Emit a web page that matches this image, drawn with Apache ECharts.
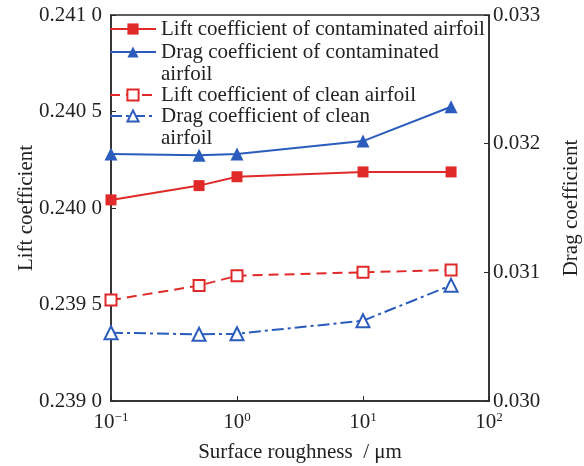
<!DOCTYPE html>
<html>
<head>
<meta charset="utf-8">
<script src="https://cdn.jsdelivr.net/npm/echarts@6/dist/echarts.min.js"></script>
<style>html,body{margin:0;padding:0;background:#fff}#c{width:584px;height:466px}</style>
</head>
<body>
<div id="c"></div>
<script>
var roughness = [0.1, 0.5, 1, 10, 50];
var liftContaminated = [0.240042, 0.240116, 0.240162, 0.240187, 0.240187];
var dragContaminated = [0.03192, 0.03191, 0.03192, 0.03202, 0.032287];
var liftClean = [0.239523, 0.239598, 0.239649, 0.239667, 0.239679];
var dragClean = [0.030531, 0.030518, 0.030523, 0.030624, 0.030899];
var seriesNames = [
  'Lift coefficient of contaminated airfoil',
  'Drag coefficient of contaminated airfoil',
  'Lift coefficient of clean airfoil',
  'Drag coefficient of clean airfoil'
];
var xAxisName = 'Surface roughness  / \u03bcm';
var leftAxisName = 'Lift coefficient';
var rightAxisName = 'Drag coefficient';

function pairs(xs, ys) { return xs.map(function (x, i) { return [x, ys[i]]; }); }

var FONT = '"Liberation Serif", "Times New Roman", serif';
var RED = '#e02a2a';
var BLUE = '#2b5cbc';
var AXC = '#2a2a2a';
var LH = 22.7;

function legendFormatter(name) {
  if (name.indexOf('Drag') === 0) {
    return ' \n' + name.replace(/ airfoil$/, '\nairfoil');
  }
  return name;
}
function mkLegend(name, top) {
  return {
    data: [name], left: 109, top: top, padding: 0, orient: 'vertical',
    itemWidth: 46, itemHeight: 14, itemGap: 0,
    formatter: legendFormatter,
    textStyle: { fontFamily: FONT, fontSize: 21, color: '#222', lineHeight: LH }
  };
}

var chart = echarts.init(document.getElementById('c'), null, { renderer: 'canvas' });
chart.setOption({
  animation: false,
  backgroundColor: '#fff',
  grid: {
    left: 111, right: 95, top: 15, bottom: 65, containLabel: false, outerBoundsMode: 'none',
    show: true, borderColor: AXC, borderWidth: 1.5, backgroundColor: 'transparent'
  },
  legend: [
    mkLegend(seriesNames[0], 29 - LH / 2),
    mkLegend(seriesNames[1], 52 - 1.5 * LH),
    mkLegend(seriesNames[2], 95 - LH / 2),
    mkLegend(seriesNames[3], 116 - 1.5 * LH)
  ],
  xAxis: {
    type: 'log', logBase: 10, min: 0.1, max: 100,
    name: xAxisName, nameLocation: 'middle', nameGap: 41,
    nameTextStyle: { fontFamily: FONT, fontSize: 21, color: '#222' },
    axisLine: { lineStyle: { color: AXC, width: 1.5 } },
    axisTick: { inside: true, length: 5, lineStyle: { color: AXC } },
    splitLine: { show: false },
    minorTick: { show: false },
    axisLabel: {
      margin: 10, color: '#222',
      formatter: function (v) {
        var e = Math.round(Math.log10(v));
        return '{b|10}{s|' + (e < 0 ? '\u2212' + (-e) : e) + '}';
      },
      rich: {
        b: { fontFamily: FONT, fontSize: 21, color: '#222' },
        s: { fontFamily: FONT, fontSize: 13, color: '#222', padding: [0, 0, 10, 0] }
      }
    }
  },
  yAxis: [
    {
      type: 'value', min: 0.239, max: 0.241, interval: 0.0005, position: 'left',
      name: leftAxisName, nameLocation: 'middle', nameGap: 74, nameRotate: 90, nameMoveOverlap: false,
      nameTextStyle: { fontFamily: FONT, fontSize: 21, color: '#222' },
      axisLine: { show: true, lineStyle: { color: AXC, width: 1.5 } },
      axisTick: { show: true, inside: true, length: 5, lineStyle: { color: AXC } },
      splitLine: { show: false },
      axisLabel: {
        margin: 9, fontFamily: FONT, fontSize: 21, color: '#222',
        formatter: function (v) { var s = v.toFixed(4); return s.slice(0, 5) + ' ' + s.slice(5); }
      }
    },
    {
      type: 'value', min: 0.030, max: 0.033, interval: 0.001, position: 'right',
      name: rightAxisName, nameLocation: 'middle', nameGap: 72, nameRotate: 90, nameMoveOverlap: false,
      nameTextStyle: { fontFamily: FONT, fontSize: 21, color: '#222' },
      axisLine: { show: true, lineStyle: { color: AXC, width: 1.5 } },
      axisTick: { show: true, inside: true, length: 5, lineStyle: { color: AXC } },
      splitLine: { show: false },
      axisLabel: {
        margin: 4, fontFamily: FONT, fontSize: 21, color: '#222',
        formatter: function (v) { return v.toFixed(3); }
      }
    }
  ],
  series: [
    {
      name: seriesNames[0], type: 'line', yAxisIndex: 0, data: pairs(roughness, liftContaminated),
      symbol: 'rect', symbolSize: 11, color: RED,
      lineStyle: { color: RED, width: 2 },
      itemStyle: { color: RED, borderWidth: 0 }
    },
    {
      name: seriesNames[1], type: 'line', yAxisIndex: 1, data: pairs(roughness, dragContaminated),
      symbol: 'triangle', symbolSize: 13, color: BLUE,
      lineStyle: { color: BLUE, width: 2 },
      itemStyle: { color: BLUE, borderWidth: 0 }
    },
    {
      name: seriesNames[2], type: 'line', yAxisIndex: 0, data: pairs(roughness, liftClean),
      symbol: 'emptyRect', symbolSize: 11, color: RED,
      lineStyle: { color: RED, width: 2, type: [10, 6] },
      itemStyle: { color: RED, borderColor: RED, borderWidth: 1.5 }
    },
    {
      name: seriesNames[3], type: 'line', yAxisIndex: 1, data: pairs(roughness, dragClean),
      symbol: 'emptyTriangle', symbolSize: 13, color: BLUE,
      lineStyle: { color: BLUE, width: 2, type: [12, 4, 3, 4] },
      itemStyle: { color: BLUE, borderColor: BLUE, borderWidth: 1.5 }
    }
  ]
});
</script>
</body>
</html>
